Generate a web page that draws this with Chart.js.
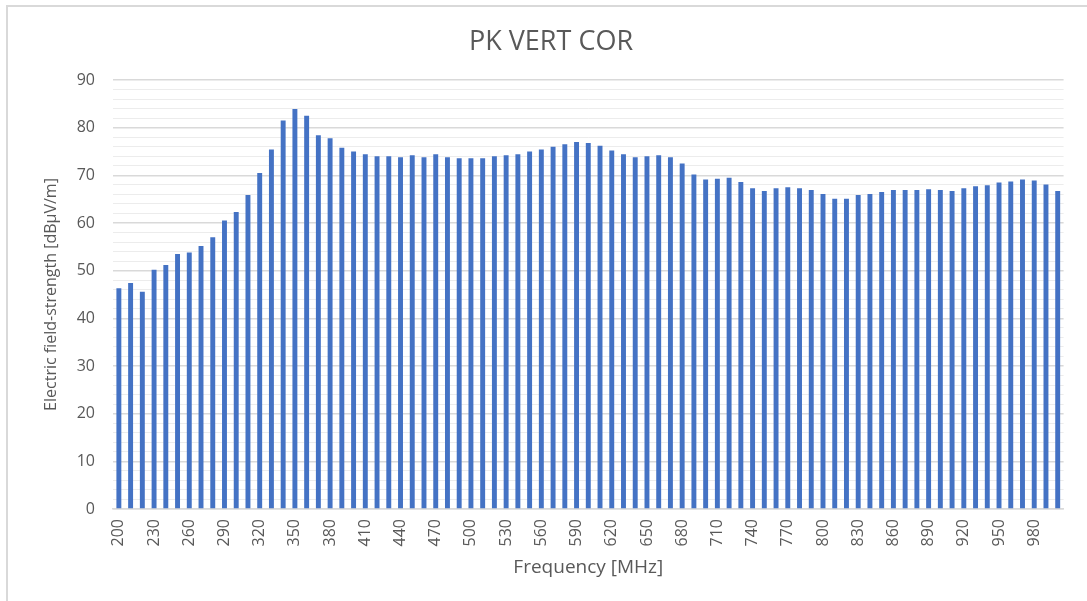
<!DOCTYPE html>
<html>
<head>
<meta charset="utf-8">
<script src="https://cdn.jsdelivr.net/npm/chart.js@4"></script>
<style>
    html, body { margin: 0; padding: 0; background: #fff; overflow: hidden; }
    #wrap { position: relative; width: 1087px; height: 601px; }
    #frame { position: absolute; left: 6px; top: 5px; width: 1090px; height: 600px;
             border-left: 2px solid #d9d9d9; border-top: 2px solid #d9d9d9; pointer-events: none; }
    canvas { position: absolute; left: 0; top: 0; }
</style>
</head>
<body>
<div id="wrap">
    <canvas id="chart" width="1087" height="601"></canvas>
    <div id="frame"></div>
</div>
<script>
// frequencies (MHz)
const frequencies = [
    '200', '210', '220', '230', '240', '250', '260', '270', '280', '290',
    '300', '310', '320', '330', '340', '350', '360', '370', '380', '390',
    '400', '410', '420', '430', '440', '450', '460', '470', '480', '490',
    '500', '510', '520', '530', '540', '550', '560', '570', '580', '590',
    '600', '610', '620', '630', '640', '650', '660', '670', '680', '690',
    '700', '710', '720', '730', '740', '750', '760', '770', '780', '790',
    '800', '810', '820', '830', '840', '850', '860', '870', '880', '890',
    '900', '910', '920', '930', '940', '950', '960', '970', '980', '990',
    '1000'
];

// peak vertical corrected field strength (dBµV/m)
const fieldStrength = [
    46.3, 47.4, 45.6, 50.2, 51.2, 53.5, 53.8, 55.2, 57.0, 60.5,
    62.3, 65.9, 70.5, 75.4, 81.5, 83.9, 82.5, 78.4, 77.8, 75.8,
    75.0, 74.4, 74.0, 74.0, 73.8, 74.2, 73.8, 74.4, 73.8, 73.6,
    73.6, 73.6, 74.0, 74.2, 74.4, 75.0, 75.4, 76.0, 76.5, 77.0,
    76.8, 76.2, 75.2, 74.4, 73.8, 74.0, 74.2, 73.8, 72.5, 70.2,
    69.1, 69.3, 69.5, 68.6, 67.3, 66.7, 67.3, 67.5, 67.3, 66.9,
    66.1, 65.1, 65.1, 65.9, 66.1, 66.5, 66.9, 66.9, 66.9, 67.1,
    66.9, 66.7, 67.3, 67.7, 67.9, 68.5, 68.7, 69.1, 68.9, 68.1,
    66.7
];

// x labels that are actually printed
const xTickLabels = [
    '200', '230', '260', '290', '320', '350', '380', '410', '440', '470',
    '500', '530', '560', '590', '620', '650', '680', '710', '740', '770',
    '800', '830', '860', '890', '920', '950', '980'
];

const yMin = 0;
const yMax = 90;
const yMajor = 10;
const yMinor = 2;

const textColor = '#595959';
const fontFamily = '"Open Sans", "Noto Sans", sans-serif';

const ctx = document.getElementById('chart').getContext('2d');
new Chart(ctx, {
    type: 'bar',
    data: {
        labels: frequencies,
        datasets: [{
            label: 'PK VERT COR',
            data: fieldStrength,
            backgroundColor: '#4472C4',
            borderWidth: 0,
            categoryPercentage: 1.0,
            barPercentage: 0.42
        }]
    },
    options: {
        responsive: false,
        devicePixelRatio: 1,
        animation: false,
        layout: {
            padding: { left: 31, right: 16, top: 0, bottom: 0 }
        },
        plugins: {
            legend: { display: false },
            tooltip: { enabled: false },
            title: {
                display: true,
                text: 'PK VERT COR',
                color: textColor,
                font: { family: fontFamily, size: 27, weight: 'normal' },
                padding: { top: 26, bottom: 21.6 }
            }
        },
        scales: {
            x: {
                grid: { display: false, drawTicks: false },
                border: { display: true, color: '#d9d9d9', width: 1.5 },
                ticks: {
                    autoSkip: false,
                    minRotation: 90,
                    maxRotation: 90,
                    padding: 10,
                    color: textColor,
                    font: { family: fontFamily, size: 16 },
                    callback: function (value, index) {
                        const lbl = frequencies[index];
                        return xTickLabels.includes(lbl) ? lbl : '';
                    }
                },
                title: {
                    display: true,
                    text: 'Frequency [MHz]',
                    color: textColor,
                    font: { family: fontFamily, size: 19 },
                    padding: { top: 0, bottom: 22 }
                },
                afterFit: function (scale) { scale.height = 92; }
            },
            y: {
                min: yMin,
                max: yMax,
                grid: {
                    drawTicks: false,
                    lineWidth: function (c) {
                        return c.tick && c.tick.value % yMajor === 0 ? 1.5 : 1;
                    },
                    color: function (c) {
                        return c.tick && c.tick.value % yMajor === 0 ? '#d9d9d9' : '#ececec';
                    }
                },
                border: { display: false },
                ticks: {
                    stepSize: yMinor,
                    maxTicksLimit: 100,
                    autoSkip: false,
                    padding: 18,
                    color: textColor,
                    font: { family: fontFamily, size: 16 },
                    callback: function (value) {
                        return value % yMajor === 0 ? value : '';
                    }
                },
                title: {
                    display: true,
                    text: 'Electric field-strength [dBμV/m]',
                    color: textColor,
                    font: { family: fontFamily, size: 16 },
                    padding: { top: 11, bottom: 0 }
                },
                afterFit: function (scale) { scale.width = 82; }
            }
        }
    }
});
</script>
</body>
</html>
